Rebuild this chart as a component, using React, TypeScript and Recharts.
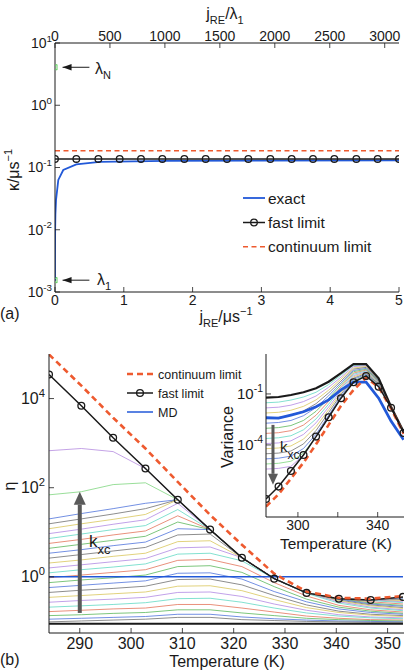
import React from "react";
import { ComposedChart, Line, XAxis, YAxis } from "recharts";

const FONT = '"Liberation Sans", Arial, Helvetica, sans-serif';
const INK = "#1a1a1a";
const BLUE = "#2259d8";
const RED = "#ee5a2f";
const ARROW = "#5a5a5a";

// ---------- (a) kappa vs j_RE (log10 values) ----------
const jTicks = [0, 1, 2, 3, 4, 5];
const jOverLambdaTicks = [0, 500, 1000, 1500, 2000, 2500, 3000];
const jOverLambdaRange = [0, 3130];
const kappaDecades = [-3, -2, -1, 0, 1];

const exactJ = [0, 0, 0.002, 0.006, 0.015, 0.048, 0.12, 0.31, 0.65, 1.62, 3, 5];
const exactLogKappa = [-2.82, -2.5, -2.0, -1.75, -1.52, -1.2, -1.04, -0.95, -0.91, -0.895, -0.89, -0.885];
const fastMarkJ = [0, 0.31, 0.63, 0.94, 1.25, 1.56, 1.88, 2.19, 2.5, 2.81, 3.13, 3.44, 3.75, 4.06, 4.38, 4.69, 5];
const fastLogKappa = -0.863;
const continuumLogKappa = -0.73;
const lambdaLogKappa = [0.61, -2.81]; // lambda_N, lambda_1

// ---------- (b) eta vs temperature (log10 values) ----------
const tempTicks = [290, 300, 310, 320, 330, 340, 350];
const etaDecades = [0, 2, 4];
const temps = [284, 290.3, 296.5, 302.8, 309.1, 315.4, 321.6, 327.9, 334.2, 340.5, 346.7, 353];
const fastEta = [4.54, 3.84, 3.12, 2.43, 1.73, 1.06, 0.43, -0.04, -0.36, -0.49, -0.52, -0.45];
const contEta = [4.99, 4.29, 3.57, 2.88, 2.13, 1.39, 0.72, 0.07, -0.33, -0.47, -0.49, -0.43];
const mdEta = [0, 0, 0, 0, 0, 0, 0, 0, 0, 0, 0, 0];
const purpleEta = [2.83, 2.88, 2.81, 2.43, 1.73, 1.06, 0.43, -0.04, -0.36, -0.49, -0.52, -0.47];
const greenEta = [1.84, 1.91, 2.07, 2.11, 1.73, 1.06, 0.43, -0.04, -0.36, -0.49, -0.52, -0.47];
const floorEta = [-1.05, -1.05, -1.05, -1.05, -1.05, -1.05, -1.05, -1.05, -1.05, -1.05, -1.05, -1.05];
const kxcEta = [
  [1.3, 1.42, 1.53, 1.65, 1.73, 1.06, 0.43, -0.04, -0.36, -0.49, -0.52, -0.48],
  [1.19, 1.3, 1.41, 1.53, 1.73, 1.06, 0.43, -0.04, -0.36, -0.49, -0.52, -0.51],
  [1.08, 1.19, 1.29, 1.4, 1.73, 1.06, 0.43, -0.04, -0.36, -0.49, -0.52, -0.53],
  [0.97, 1.07, 1.18, 1.28, 1.65, 1.06, 0.43, -0.04, -0.36, -0.49, -0.52, -0.56],
  [0.86, 0.96, 1.06, 1.15, 1.51, 1.06, 0.43, -0.04, -0.36, -0.49, -0.53, -0.58],
  [0.75, 0.84, 0.94, 1.03, 1.37, 1.06, 0.43, -0.04, -0.36, -0.49, -0.56, -0.61],
  [0.64, 0.73, 0.82, 0.91, 1.23, 1.06, 0.43, -0.04, -0.36, -0.49, -0.59, -0.64],
  [0.53, 0.61, 0.7, 0.78, 1.08, 1.06, 0.43, -0.04, -0.36, -0.5, -0.61, -0.66],
  [0.42, 0.5, 0.58, 0.66, 0.94, 0.96, 0.43, -0.04, -0.36, -0.52, -0.63, -0.69],
  [0.31, 0.38, 0.46, 0.53, 0.79, 0.81, 0.43, -0.04, -0.36, -0.54, -0.65, -0.71],
  [0.2, 0.27, 0.34, 0.41, 0.65, 0.67, 0.43, -0.04, -0.36, -0.56, -0.68, -0.74],
  [0.09, 0.16, 0.22, 0.29, 0.51, 0.53, 0.36, -0.04, -0.37, -0.59, -0.7, -0.76],
  [-0.02, 0.04, 0.1, 0.16, 0.37, 0.39, 0.23, -0.13, -0.43, -0.64, -0.74, -0.79],
  [-0.13, -0.07, -0.02, 0.04, 0.23, 0.25, 0.1, -0.22, -0.5, -0.68, -0.77, -0.82],
  [-0.24, -0.19, -0.14, -0.09, 0.08, 0.09, -0.05, -0.33, -0.56, -0.72, -0.8, -0.84],
  [-0.35, -0.3, -0.26, -0.21, -0.06, -0.05, -0.18, -0.42, -0.63, -0.77, -0.84, -0.87],
  [-0.46, -0.42, -0.38, -0.34, -0.21, -0.2, -0.31, -0.51, -0.69, -0.8, -0.86, -0.89],
  [-0.57, -0.53, -0.5, -0.46, -0.35, -0.34, -0.44, -0.61, -0.75, -0.85, -0.9, -0.92],
  [-0.68, -0.65, -0.62, -0.58, -0.49, -0.48, -0.57, -0.7, -0.81, -0.88, -0.92, -0.94],
  [-0.78, -0.75, -0.72, -0.7, -0.62, -0.62, -0.7, -0.79, -0.88, -0.93, -0.96, -0.97],
  [-0.87, -0.85, -0.82, -0.8, -0.74, -0.74, -0.81, -0.87, -0.93, -0.96, -0.98, -0.99],
  [-0.95, -0.93, -0.91, -0.89, -0.84, -0.84, -0.9, -0.94, -0.97, -0.99, -1.0, -1.01],
  [-1.01, -0.99, -0.97, -0.95, -0.91, -0.91, -0.96, -0.98, -1.0, -1.01, -1.02, -1.02],
];

// ---------- inset: variance vs temperature (log10 values) ----------
const insetTempTicks = [300, 320, 340];
const insetTempLabels = [300, 340];
const varDecades = [-4, -1];
const varTop = [-1.22, -1.18, -1.06, -0.9, -0.67, -0.28, 0.22, 0.76, 0.76, -0.08, -1.75, -3.22];
const varFast = [-7.18, -6.45, -5.53, -4.59, -3.51, -2.37, -1.25, -0.31, 0.06, -0.57, -1.81, -3.3];
const varCont = [-7.63, -6.9, -5.98, -5.04, -3.96, -2.82, -1.7, -0.76, -0.05, -0.6, -1.85, -3.35];
const varMd = [-2.4, -2.42, -2.24, -2.05, -1.75, -1.35, -0.76, -0.3, -0.3, -1.25, -2.6, -3.7];
const varKxc = [
  [-1.52, -1.48, -1.36, -1.18, -0.9, -0.45, 0.11, 0.68, 0.71, -0.11, -1.76, -3.22],
  [-1.82, -1.78, -1.66, -1.45, -1.12, -0.61, -0.01, 0.61, 0.66, -0.14, -1.77, -3.22],
  [-2.12, -2.08, -1.96, -1.73, -1.35, -0.78, -0.12, 0.53, 0.61, -0.17, -1.78, -3.22],
  [-2.42, -2.38, -2.26, -2.0, -1.57, -0.94, -0.24, 0.46, 0.56, -0.2, -1.79, -3.22],
  [-2.72, -2.68, -2.56, -2.28, -1.8, -1.11, -0.35, 0.38, 0.5, -0.23, -1.8, -3.22],
  [-3.02, -2.98, -2.86, -2.56, -2.02, -1.27, -0.46, 0.31, 0.45, -0.26, -1.8, -3.22],
  [-3.32, -3.28, -3.16, -2.83, -2.25, -1.44, -0.58, 0.23, 0.4, -0.29, -1.81, -3.22],
  [-3.62, -3.58, -3.46, -3.11, -2.47, -1.6, -0.69, 0.16, 0.35, -0.32, -1.81, -3.22],
  [-3.92, -3.88, -3.76, -3.38, -2.7, -1.77, -0.81, 0.08, 0.3, -0.35, -1.81, -3.22],
  [-4.22, -4.18, -4.06, -3.66, -2.92, -1.93, -0.92, 0.01, 0.25, -0.38, -1.81, -3.22],
  [-4.52, -4.48, -4.36, -3.94, -3.15, -2.1, -1.03, -0.07, 0.2, -0.41, -1.81, -3.22],
  [-4.82, -4.78, -4.66, -4.21, -3.37, -2.26, -1.15, -0.14, 0.15, -0.44, -1.81, -3.22],
  [-5.12, -5.08, -4.96, -4.49, -3.51, -2.37, -1.25, -0.22, 0.1, -0.47, -1.81, -3.22],
  [-5.42, -5.38, -5.26, -4.59, -3.51, -2.37, -1.25, -0.29, 0.06, -0.5, -1.81, -3.22],
];

const cycle = ["#4f74dc", "#707070", "#d9c65c", "#b189e3", "#62d9c4", "#e3735a", "#5cb85c"];
const PURPLE = "#b58be0";
const GREEN = "#7fd67f";

type Side = "top" | "bottom" | "left" | "right";

const pow10 = (fs: number) => (v: number) => (
  <>
    10<tspan dy={-fs * 0.45} fontSize={fs * 0.7}>{v}</tspan>
  </>
);
const plain = (v: number) => <>{v}</>;

function axisTick(side: Side, fs: number, label?: (v: number) => React.ReactNode, gap = 3, show?: number[]) {
  return (p: any) => {
    const { x, y } = p;
    const v = p.payload.value;
    const len = 5;
    const d = side === "bottom" ? [0, -len] : side === "top" ? [0, len] : side === "left" ? [len, 0] : [-len, 0];
    const txt = { fontSize: fs, fontFamily: FONT, fill: INK };
    let text: React.ReactNode = null;
    if (label && (!show || show.includes(v))) {
      if (side === "bottom")
        text = <text x={x} y={y + gap + fs * 0.72} textAnchor="middle" {...txt}>{label(v)}</text>;
      else if (side === "top")
        text = <text x={x} y={y - gap} textAnchor="middle" {...txt}>{label(v)}</text>;
      else if (side === "left")
        text = <text x={x - gap} y={y + fs * 0.35} textAnchor="end" {...txt}>{label(v)}</text>;
    }
    return (
      <g>
        <line x1={x} y1={y} x2={x + d[0]} y2={y + d[1]} stroke={INK} strokeWidth={0.8} />
        {text}
      </g>
    );
  };
}

const axisCommon = {
  type: "number" as const,
  allowDataOverflow: true,
  axisLine: { stroke: INK, strokeWidth: 1 },
  tickLine: false,
  tickSize: 0,
  tickMargin: 0,
  interval: 0 as const,
};

const arrowHead = (dir: "left" | "up" | "down", color: string, w: number, l: number) => (p: any) => {
  if (!p.payload.tip) return <g key={`a${p.index}`} />;
  const { cx, cy } = p;
  const pts =
    dir === "left"
      ? `${cx},${cy} ${cx + l},${cy - w} ${cx + l},${cy + w}`
      : dir === "up"
      ? `${cx},${cy - l} ${cx - w},${cy} ${cx + w},${cy}`
      : `${cx},${cy + l} ${cx - w},${cy} ${cx + w},${cy}`;
  return <polygon key={`a${p.index}`} points={pts} fill={color} />;
};

function RateChart() {
  const exact = exactJ.map((j, i) => ({ j, v: exactLogKappa[i] }));
  const fast = fastMarkJ.map((j) => ({ j, v: fastLogKappa }));
  const cont = [
    { j: 0, v: continuumLogKappa },
    { j: 5, v: continuumLogKappa },
  ];
  const lambdas = lambdaLogKappa.map((v) => ({ j: 0, v }));
  const arrows = lambdaLogKappa.map((v) => [
    { j: 0.5, v },
    { j: 0.11, v, tip: true },
  ]);
  // invisible series that keeps the top (j/lambda) and right axes scaled
  const topFrame = jOverLambdaRange.map((j) => ({ j, v: continuumLogKappa }));
  return (
    <ComposedChart width={408} height={330} margin={{ top: 0, right: 9, bottom: 0, left: 0 }}>
      <XAxis xAxisId="j" dataKey="j" domain={[0, 5]} ticks={jTicks} height={38} tick={axisTick("bottom", 14, plain, 3)} {...axisCommon} />
      <XAxis xAxisId="jl" dataKey="j" orientation="top" domain={jOverLambdaRange} ticks={jOverLambdaTicks} height={43} tick={axisTick("top", 14, plain, 2)} {...axisCommon} />
      <YAxis yAxisId="k" domain={[-3, 1]} ticks={kappaDecades} width={55} tick={axisTick("left", 14, pow10(14), 3)} {...axisCommon} />
      <YAxis yAxisId="kr" orientation="right" domain={[-3, 1]} ticks={kappaDecades} width={0} tick={axisTick("right", 14)} {...axisCommon} />
      <Line xAxisId="jl" yAxisId="kr" data={topFrame} dataKey="v" stroke="none" dot={false} activeDot={false} isAnimationActive={false} />
      <Line xAxisId="j" yAxisId="k" data={exact} dataKey="v" stroke={BLUE} strokeWidth={1.8} dot={false} activeDot={false} isAnimationActive={false} />
      <Line xAxisId="j" yAxisId="k" data={fast} dataKey="v" stroke={INK} strokeWidth={1.5} dot={{ r: 3.3, stroke: INK, strokeWidth: 1.3, fill: "none" }} activeDot={false} isAnimationActive={false} />
      <Line xAxisId="j" yAxisId="k" data={cont} dataKey="v" stroke={RED} strokeWidth={1.6} strokeDasharray="5 3.5" dot={false} activeDot={false} isAnimationActive={false} />
      <Line
        xAxisId="j"
        yAxisId="k"
        data={lambdas}
        dataKey="v"
        stroke="none"
        dot={(p: any) => (
          <polygon key={`l${p.index}`} points={`${p.cx - 2.5},${p.cy} ${p.cx + 2},${p.cy - 2.8} ${p.cx + 2},${p.cy + 2.8}`} fill="none" stroke="#5fd05f" strokeWidth={1} />
        )}
        activeDot={false}
        isAnimationActive={false}
      />
      {arrows.map((a, i) => (
        <Line key={i} xAxisId="j" yAxisId="k" data={a} dataKey="v" stroke={INK} strokeWidth={1} dot={arrowHead("left", INK, 3.2, 9)} activeDot={false} isAnimationActive={false} />
      ))}
    </ComposedChart>
  );
}

function EtaChart() {
  const rows = temps.map((T, i) => {
    const r: Record<string, number> = { T, fast: fastEta[i], cont: contEta[i], md: mdEta[i], purple: purpleEta[i], green: greenEta[i], floor: floorEta[i] };
    kxcEta.forEach((s, k) => (r[`f${k}`] = s[i]));
    return r;
  });
  const arrow = [
    { T: 290, v: -0.81 },
    { T: 290, v: 1.62, tip: true },
  ];
  return (
    <ComposedChart width={408} height={340} data={rows} margin={{ top: 24, right: 4, bottom: 0, left: 0 }}>
      <XAxis xAxisId="t" dataKey="T" domain={[284, 353.2]} ticks={tempTicks} height={37} tick={axisTick("bottom", 16, plain, 4.5)} {...axisCommon} />
      <XAxis xAxisId="tt" dataKey="T" orientation="top" domain={[284, 353.2]} ticks={tempTicks} height={0} tick={axisTick("top", 16)} {...axisCommon} />
      <YAxis yAxisId="e" domain={[-1.26, 5]} ticks={etaDecades} width={49} tick={axisTick("left", 16, pow10(16), 4)} {...axisCommon} />
      <YAxis yAxisId="er" orientation="right" domain={[-1.26, 5]} ticks={etaDecades} width={0} tick={axisTick("right", 16)} {...axisCommon} />
      <Line xAxisId="tt" yAxisId="er" dataKey="md" stroke="none" dot={false} activeDot={false} isAnimationActive={false} />
      {kxcEta.map((_, k) => (
        <Line key={k} xAxisId="t" yAxisId="e" dataKey={`f${k}`} stroke={cycle[k % cycle.length]} strokeWidth={0.8} dot={false} activeDot={false} isAnimationActive={false} />
      ))}
      <Line xAxisId="t" yAxisId="e" dataKey="green" stroke={GREEN} strokeWidth={0.8} dot={false} activeDot={false} isAnimationActive={false} />
      <Line xAxisId="t" yAxisId="e" dataKey="purple" stroke={PURPLE} strokeWidth={0.8} dot={false} activeDot={false} isAnimationActive={false} />
      <Line xAxisId="t" yAxisId="e" dataKey="floor" stroke={INK} strokeWidth={2} dot={false} activeDot={false} isAnimationActive={false} />
      <Line xAxisId="t" yAxisId="e" dataKey="md" stroke={BLUE} strokeWidth={1.5} dot={false} activeDot={false} isAnimationActive={false} />
      <Line xAxisId="t" yAxisId="e" dataKey="fast" stroke={INK} strokeWidth={1.5} dot={{ r: 3.4, stroke: INK, strokeWidth: 1.3, fill: "none" }} activeDot={false} isAnimationActive={false} />
      <Line xAxisId="t" yAxisId="e" dataKey="cont" stroke={RED} strokeWidth={2.6} strokeDasharray="6 4" dot={false} activeDot={false} isAnimationActive={false} />
      <Line xAxisId="t" yAxisId="e" data={arrow} dataKey="v" stroke={ARROW} strokeWidth={4} dot={arrowHead("up", ARROW, 6, 13)} activeDot={false} isAnimationActive={false} />
    </ComposedChart>
  );
}

function VarianceInset() {
  const rows = temps.map((T, i) => {
    const r: Record<string, number> = { T, top: varTop[i], fast: varFast[i], cont: varCont[i], md: varMd[i] };
    varKxc.forEach((s, k) => (r[`i${k}`] = s[i]));
    return r;
  });
  const n = varKxc.length;
  const colorOf = (k: number) => (k === n - 1 ? PURPLE : k === n - 2 ? GREEN : cycle[(n - 3 - k) % cycle.length]);
  const arrow = [
    { T: 287.5, v: -2.82 },
    { T: 287.5, v: -5.7, tip: true },
  ];
  return (
    <ComposedChart width={188} height={215} data={rows} margin={{ top: 14, right: 4, bottom: 0, left: 0 }}>
      <XAxis xAxisId="t" dataKey="T" domain={[284, 353.2]} ticks={insetTempTicks} height={38} tick={axisTick("bottom", 14, plain, 3, insetTempLabels)} {...axisCommon} />
      <XAxis xAxisId="tt" dataKey="T" orientation="top" domain={[284, 353.2]} ticks={insetTempTicks} height={0} tick={axisTick("top", 15)} {...axisCommon} />
      <YAxis yAxisId="v" domain={[-8.24, 1.35]} ticks={varDecades} width={46} tick={axisTick("left", 15, pow10(15), 3)} {...axisCommon} />
      <YAxis yAxisId="vr" orientation="right" domain={[-8.24, 1.35]} ticks={varDecades} width={0} tick={axisTick("right", 15)} {...axisCommon} />
      <Line xAxisId="tt" yAxisId="vr" dataKey="md" stroke="none" dot={false} activeDot={false} isAnimationActive={false} />
      {varKxc.map((_, k) => (
        <Line key={k} xAxisId="t" yAxisId="v" dataKey={`i${k}`} stroke={colorOf(k)} strokeWidth={0.8} dot={false} activeDot={false} isAnimationActive={false} />
      ))}
      <Line xAxisId="t" yAxisId="v" dataKey="top" stroke={INK} strokeWidth={2.2} dot={false} activeDot={false} isAnimationActive={false} />
      <Line xAxisId="t" yAxisId="v" dataKey="md" stroke={BLUE} strokeWidth={2.8} dot={false} activeDot={false} isAnimationActive={false} />
      <Line xAxisId="t" yAxisId="v" dataKey="cont" stroke={RED} strokeWidth={2.6} strokeDasharray="6 4" dot={false} activeDot={false} isAnimationActive={false} />
      <Line xAxisId="t" yAxisId="v" dataKey="fast" stroke={INK} strokeWidth={1.5} dot={{ r: 3.4, stroke: INK, strokeWidth: 1.3, fill: "none" }} activeDot={false} isAnimationActive={false} />
      <Line xAxisId="t" yAxisId="v" data={arrow} dataKey="v" stroke={ARROW} strokeWidth={3} dot={arrowHead("down", ARROW, 5, 11)} activeDot={false} isAnimationActive={false} />
    </ComposedChart>
  );
}

function Labels() {
  const t = { fontFamily: FONT, fill: INK };
  return (
    <svg width={408} height={670} style={{ position: "absolute", left: 0, top: 0, pointerEvents: "none" }}>
      {/* panel (a) */}
      <text x={225} y={19} fontSize={16} textAnchor="middle" {...t}>
        j<tspan dy={5} fontSize={11}>RE</tspan>
        <tspan dy={-5}>/λ</tspan>
        <tspan dy={5} fontSize={11}>1</tspan>
      </text>
      <text transform="translate(19,170) rotate(-90)" fontSize={16} textAnchor="middle" {...t}>
        κ/μs<tspan dy={-7} fontSize={11}>−1</tspan>
      </text>
      <text x={226} y={322} fontSize={16} textAnchor="middle" {...t}>
        j<tspan dy={5} fontSize={11}>RE</tspan>
        <tspan dy={-5}>/μs</tspan>
        <tspan dy={-7} fontSize={11}>−1</tspan>
      </text>
      <text x={0} y={319} fontSize={16} {...t}>(a)</text>
      <text x={95} y={74} fontSize={16} {...t}>
        λ<tspan dy={5} fontSize={11}>N</tspan>
      </text>
      <text x={97} y={285} fontSize={16} {...t}>
        λ<tspan dy={5} fontSize={11}>1</tspan>
      </text>
      <line x1={243} y1={198} x2={265} y2={198} stroke={BLUE} strokeWidth={1.8} />
      <line x1={243} y1={222.5} x2={265} y2={222.5} stroke={INK} strokeWidth={1.5} />
      <circle cx={254} cy={222.5} r={3.3} fill="none" stroke={INK} strokeWidth={1.3} />
      <line x1={243} y1={246.7} x2={265} y2={246.7} stroke={RED} strokeWidth={1.6} strokeDasharray="5 3.5" />
      <text x={268} y={203.5} fontSize={15.5} {...t}>exact</text>
      <text x={268} y={228} fontSize={15.5} {...t}>fast limit</text>
      <text x={268} y={252} fontSize={15.5} {...t}>continuum limit</text>

      {/* panel (b) */}
      <text x={0} y={665} fontSize={16} {...t}>(b)</text>
      <text x={227} y={667} fontSize={16} textAnchor="middle" {...t}>Temperature (K)</text>
      <text transform="translate(15,486) rotate(-90)" fontSize={16} textAnchor="middle" {...t}>η</text>
      <line x1={127} y1={374} x2={153} y2={374} stroke={RED} strokeWidth={2.6} strokeDasharray="6 4" />
      <line x1={127} y1={393} x2={153} y2={393} stroke={INK} strokeWidth={1.5} />
      <circle cx={140} cy={393} r={3.4} fill="none" stroke={INK} strokeWidth={1.3} />
      <line x1={127} y1={412} x2={153} y2={412} stroke={BLUE} strokeWidth={1.5} />
      <text x={158} y={378.5} fontSize={12.5} {...t}>continuum limit</text>
      <text x={158} y={397.5} fontSize={12.5} {...t}>fast limit</text>
      <text x={158} y={416.5} fontSize={12.5} {...t}>MD</text>
      <text x={89} y={547} fontSize={17} {...t}>
        k<tspan dy={7} fontSize={13}>xc</tspan>
      </text>

      {/* inset */}
      <text transform="translate(233,437) rotate(-90)" fontSize={16} textAnchor="middle" {...t}>Variance</text>
      <text x={336} y={549} fontSize={15.5} textAnchor="middle" {...t}>Temperature (K)</text>
      <text x={280} y={452} fontSize={15} {...t}>
        k<tspan dy={7} fontSize={12}>xc</tspan>
      </text>
    </svg>
  );
}

export default function App() {
  return (
    <div style={{ position: "absolute", left: 0, top: 0, width: 408, height: 670, background: "#fff", overflow: "hidden" }}>
      <div style={{ position: "absolute", left: 0, top: 0 }}>
        <RateChart />
      </div>
      <div style={{ position: "absolute", left: 0, top: 330 }}>
        <EtaChart />
      </div>
      <div style={{ position: "absolute", left: 266, top: 354, width: 138, height: 163, background: "#fff" }} />
      <div style={{ position: "absolute", left: 220, top: 340 }}>
        <VarianceInset />
      </div>
      <Labels />
    </div>
  );
}
